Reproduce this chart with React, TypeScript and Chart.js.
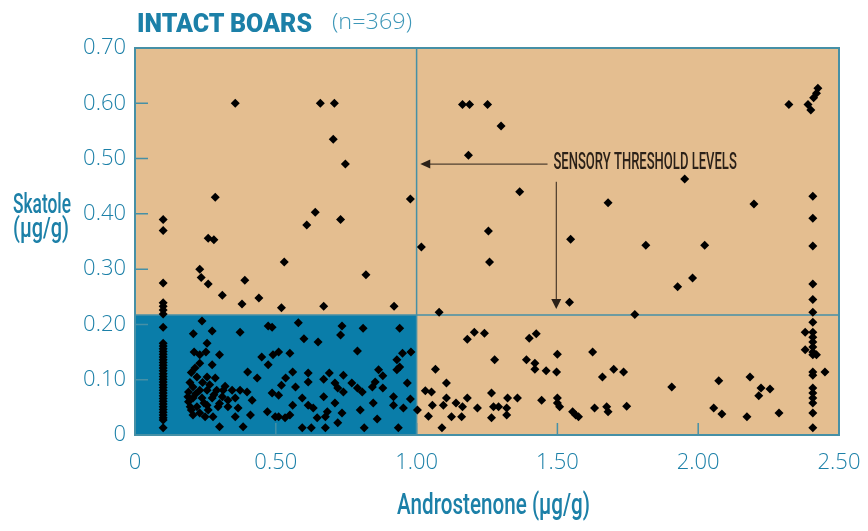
import React, { useEffect, useLayoutEffect, useRef } from "react";
import { Chart, registerables } from "chart.js";

Chart.register(...registerables);

// ---------- axes ----------
const X_TICKS = [0, 0.5, 1.0, 1.5, 2.0, 2.5];
const X_TICK_LABELS = ["0", "0.50", "1.00", "1.50", "2.00", "2.50"];
const Y_TICKS = [0, 0.1, 0.2, 0.3, 0.4, 0.5, 0.6, 0.7];
const Y_TICK_LABELS = ["0", "0.10", "0.20", "0.30", "0.40", "0.50", "0.60", "0.70"];

// ---------- sensory thresholds ----------
const ANDROSTENONE_THRESHOLD = 1.0;
const SKATOLE_THRESHOLD = 0.217;

// ---------- data: [androstenone, skatole] (µg/g) ----------
const UPPER_LEFT = [
  [0.356, 0.6], [0.658, 0.6], [0.708, 0.6], [0.704, 0.535], [0.747, 0.49], [0.978, 0.427],
  [0.64, 0.403], [0.61, 0.38], [0.73, 0.39], [0.82, 0.29], [0.53, 0.313], [0.285, 0.43],
  [0.26, 0.356], [0.28, 0.353], [0.1, 0.39], [0.1, 0.37], [0.1, 0.275], [0.23, 0.3],
  [0.235, 0.285], [0.26, 0.273], [0.39, 0.28], [0.31, 0.253], [0.38, 0.237], [0.44, 0.248],
  [0.52, 0.23], [0.67, 0.233], [0.92, 0.233], [0.1, 0.239], [0.1, 0.233], [0.1, 0.226], [0.1, 0.219],
];

const LOW_COLUMN = [
  [0.1, 0.195], [0.1, 0.166], [0.1, 0.161], [0.1, 0.156], [0.1, 0.151], [0.1, 0.146],
  [0.1, 0.141], [0.1, 0.136], [0.1, 0.131], [0.1, 0.126], [0.1, 0.121], [0.1, 0.116],
  [0.1, 0.111], [0.1, 0.106], [0.1, 0.101], [0.1, 0.096], [0.1, 0.091], [0.1, 0.086],
  [0.1, 0.081], [0.1, 0.076], [0.1, 0.071], [0.1, 0.066], [0.1, 0.061], [0.1, 0.056],
  [0.1, 0.051], [0.1, 0.046], [0.1, 0.041], [0.1, 0.036], [0.1, 0.031], [0.1, 0.027], [0.1, 0.013],
];

const LOW_LEFT_A = [
  [0.238, 0.206], [0.207, 0.183], [0.274, 0.188], [0.373, 0.186], [0.473, 0.197], [0.487, 0.195],
  [0.256, 0.166], [0.21, 0.15], [0.23, 0.145], [0.252, 0.15], [0.3, 0.145], [0.45, 0.141],
  [0.49, 0.145], [0.213, 0.121], [0.23, 0.13], [0.274, 0.127], [0.4, 0.114], [0.473, 0.127],
  [0.22, 0.105], [0.256, 0.105], [0.285, 0.103], [0.434, 0.103], [0.206, 0.087], [0.23, 0.081],
  [0.256, 0.081], [0.29, 0.081], [0.313, 0.081], [0.345, 0.081], [0.373, 0.081], [0.398, 0.078],
  [0.487, 0.076], [0.188, 0.069], [0.206, 0.067], [0.238, 0.067], [0.274, 0.067], [0.31, 0.069],
  [0.33, 0.063], [0.356, 0.067], [0.416, 0.063], [0.196, 0.051], [0.22, 0.051], [0.256, 0.054],
  [0.295, 0.051], [0.33, 0.051], [0.366, 0.049], [0.206, 0.036], [0.249, 0.033], [0.277, 0.033],
  [0.356, 0.033], [0.41, 0.036], [0.47, 0.042], [0.51, 0.033], [0.3, 0.015], [0.384, 0.015],
  [0.195, 0.095], [0.19, 0.078], [0.215, 0.074], [0.245, 0.058], [0.265, 0.091], [0.28, 0.073],
  [0.3, 0.057], [0.32, 0.088], [0.19, 0.06], [0.2, 0.045], [0.23, 0.04], [0.26, 0.045],
  [0.2, 0.113], [0.24, 0.095],
];

const LOW_LEFT_B = [
  [0.58, 0.203], [0.735, 0.197], [0.81, 0.193], [0.94, 0.193], [0.73, 0.181], [0.6, 0.174],
  [0.65, 0.168], [0.79, 0.152], [0.51, 0.15], [0.55, 0.148], [0.95, 0.148], [0.98, 0.15],
  [0.93, 0.136], [0.94, 0.123], [0.93, 0.118], [0.865, 0.118], [0.56, 0.114], [0.615, 0.112],
  [0.69, 0.112], [0.74, 0.108], [0.88, 0.107], [0.535, 0.103], [0.67, 0.101], [0.615, 0.096],
  [0.71, 0.094], [0.77, 0.094], [0.853, 0.096], [0.967, 0.094], [0.52, 0.09], [0.57, 0.087],
  [0.72, 0.085], [0.79, 0.085], [0.843, 0.087], [0.88, 0.085], [0.74, 0.078], [0.807, 0.078],
  [0.51, 0.072], [0.67, 0.069], [0.918, 0.069], [0.594, 0.067], [0.978, 0.065], [0.56, 0.054],
  [0.615, 0.054], [0.71, 0.058], [0.846, 0.058], [0.918, 0.054], [0.633, 0.049], [0.953, 0.049],
  [1.003, 0.045], [0.683, 0.042], [0.8, 0.045], [0.498, 0.033], [0.533, 0.031], [0.55, 0.036],
  [0.647, 0.031], [0.676, 0.033], [0.735, 0.04], [0.86, 0.029], [0.594, 0.013], [0.626, 0.013],
  [0.676, 0.013], [0.72, 0.022], [0.814, 0.013], [0.935, 0.013],
];

const UPPER_RIGHT = [
  [1.163, 0.598], [1.188, 0.598], [1.252, 0.598], [1.3, 0.559], [1.184, 0.506], [1.366, 0.44],
  [1.017, 0.34], [1.255, 0.369], [1.259, 0.313], [1.547, 0.354], [1.68, 0.42], [1.814, 0.343],
  [1.952, 0.463], [2.023, 0.343], [2.198, 0.418], [1.98, 0.284], [1.927, 0.268], [2.322, 0.598],
  [2.39, 0.598], [2.4, 0.588], [2.41, 0.61], [2.42, 0.618], [2.425, 0.627], [2.407, 0.432],
  [2.407, 0.392], [2.407, 0.342], [2.407, 0.273], [1.543, 0.24], [1.08, 0.222], [1.775, 0.218],
  [2.407, 0.245], [2.407, 0.222],
];

const HIGH_COLUMN = [
  [2.407, 0.204], [2.407, 0.186], [2.407, 0.177], [2.407, 0.168], [2.407, 0.159], [2.407, 0.15],
  [2.407, 0.145], [2.407, 0.114], [2.407, 0.108], [2.407, 0.085], [2.407, 0.076], [2.407, 0.067],
  [2.407, 0.058], [2.407, 0.04], [2.407, 0.013], [2.38, 0.186], [2.38, 0.154], [2.42, 0.145],
  [2.45, 0.114],
];

const LOW_RIGHT = [
  [1.18, 0.173], [1.205, 0.186], [1.241, 0.184], [1.4, 0.175], [1.425, 0.183], [1.5, 0.146],
  [1.625, 0.15], [1.067, 0.119], [1.277, 0.136], [1.39, 0.136], [1.42, 0.13], [1.42, 0.119],
  [1.46, 0.116], [1.497, 0.114], [1.7, 0.119], [1.735, 0.114], [1.66, 0.105], [1.906, 0.087],
  [2.073, 0.098], [2.184, 0.105], [2.223, 0.085], [2.255, 0.083], [2.215, 0.071], [2.055, 0.049],
  [2.084, 0.038], [2.173, 0.033], [2.287, 0.04], [1.106, 0.094], [1.031, 0.08], [1.053, 0.078],
  [1.056, 0.054], [1.042, 0.034], [1.09, 0.013], [1.106, 0.067], [1.095, 0.054], [1.14, 0.058],
  [1.163, 0.051], [1.18, 0.067], [1.124, 0.033], [1.16, 0.033], [1.216, 0.049], [1.266, 0.076],
  [1.266, 0.031], [1.273, 0.051], [1.291, 0.051], [1.32, 0.049], [1.32, 0.036], [1.323, 0.067],
  [1.358, 0.067], [1.444, 0.063], [1.5, 0.067], [1.5, 0.058], [1.508, 0.051], [1.554, 0.042],
  [1.565, 0.036], [1.575, 0.033], [1.632, 0.049], [1.675, 0.051], [1.68, 0.042], [1.746, 0.052],
];

// ---------- annotation (data coordinates) ----------
const ANNOTATION_TEXT = "SENSORY THRESHOLD LEVELS";
const ANNOTATION = {
  textLeft: 1.486, textRight: 2.137, textY: 0.492,
  hArrowY: 0.49, hArrowFrom: 1.465, hArrowTo: 1.013,
  vArrowX: 1.496, vArrowFrom: 0.458, vArrowTo: 0.228,
};

// ---------- styles ----------
const TAN = "#E4BE90";
const BLUE = "#0A7DA9";
const LINE = "#4690A6";
const TEXT = "#1C80A8";
const DARK = "#2B2118";

const ALL_POINTS = [
  ...UPPER_LEFT, ...LOW_COLUMN, ...LOW_LEFT_A, ...LOW_LEFT_B,
  ...UPPER_RIGHT, ...HIGH_COLUMN, ...LOW_RIGHT,
].map(([x, y]) => ({ x, y }));

const backdropPlugin = {
  id: "backdrop",
  beforeDatasetsDraw(chart: any) {
    const { ctx, chartArea, scales } = chart;
    const { left, top, right, bottom } = chartArea;
    const xs = scales.x, ys = scales.y;
    ctx.save();
    ctx.fillStyle = TAN;
    ctx.fillRect(left, top, right - left, bottom - top);
    const xT = xs.getPixelForValue(ANDROSTENONE_THRESHOLD);
    const yT = ys.getPixelForValue(SKATOLE_THRESHOLD);
    ctx.fillStyle = BLUE;
    ctx.fillRect(left, yT, xT - left, bottom - yT);
    ctx.strokeStyle = LINE;
    ctx.lineWidth = 1.5;
    ctx.beginPath();
    ctx.moveTo(xT, top); ctx.lineTo(xT, bottom);
    ctx.moveTo(left, yT); ctx.lineTo(right, yT);
    ctx.stroke();
    // inner tick marks
    ctx.lineWidth = 1.5;
    ctx.beginPath();
    Y_TICKS.forEach((v) => {
      const p = ys.getPixelForValue(v);
      ctx.moveTo(left, p); ctx.lineTo(left + 13, p);
    });
    X_TICKS.forEach((v) => {
      const p = xs.getPixelForValue(v);
      ctx.moveTo(p, bottom); ctx.lineTo(p, bottom - 12);
    });
    ctx.stroke();
    ctx.lineWidth = 2;
    ctx.strokeRect(left, top, right - left, bottom - top);
    ctx.restore();
  },
  afterDatasetsDraw(chart: any) {
    const { ctx, scales } = chart;
    const xs = scales.x, ys = scales.y;
    ctx.save();
    ctx.strokeStyle = DARK;
    ctx.fillStyle = DARK;
    ctx.lineWidth = 1;
    // horizontal arrow
    const hy = ys.getPixelForValue(ANNOTATION.hArrowY);
    const hx1 = xs.getPixelForValue(ANNOTATION.hArrowFrom);
    const hx2 = xs.getPixelForValue(ANNOTATION.hArrowTo);
    ctx.beginPath();
    ctx.moveTo(hx1, hy); ctx.lineTo(hx2 + 8, hy); ctx.stroke();
    ctx.beginPath();
    ctx.moveTo(hx2, hy); ctx.lineTo(hx2 + 10, hy - 4.5); ctx.lineTo(hx2 + 10, hy + 4.5); ctx.closePath(); ctx.fill();
    // vertical arrow
    const vx = xs.getPixelForValue(ANNOTATION.vArrowX);
    const vy1 = ys.getPixelForValue(ANNOTATION.vArrowFrom);
    const vy2 = ys.getPixelForValue(ANNOTATION.vArrowTo);
    ctx.beginPath();
    ctx.moveTo(vx, vy1); ctx.lineTo(vx, vy2 - 8); ctx.stroke();
    ctx.beginPath();
    ctx.moveTo(vx, vy2); ctx.lineTo(vx - 5, vy2 - 10); ctx.lineTo(vx + 5, vy2 - 10); ctx.closePath(); ctx.fill();
    // text (condensed to fit)
    const tx1 = xs.getPixelForValue(ANNOTATION.textLeft);
    const tx2 = xs.getPixelForValue(ANNOTATION.textRight);
    const ty = ys.getPixelForValue(ANNOTATION.textY);
    ctx.font = "500 24px Roboto, 'DejaVu Sans', sans-serif";
    ctx.textBaseline = "middle";
    ctx.textAlign = "left";
    const w = ctx.measureText(ANNOTATION_TEXT).width;
    ctx.translate(tx1, ty);
    ctx.scale((tx2 - tx1) / w, 1);
    ctx.fillText(ANNOTATION_TEXT, 0, 0);
    ctx.restore();
  },
};

function FitText({ text, left, top, width, style }: any) {
  const ref = useRef<HTMLSpanElement>(null);
  useLayoutEffect(() => {
    const el = ref.current;
    if (!el) return;
    el.style.transform = "none";
    const w = el.getBoundingClientRect().width;
    if (w > 0) el.style.transform = `scaleX(${width / w})`;
  }, [text, width]);
  return (
    <span
      ref={ref}
      style={{
        position: "absolute", left, top, whiteSpace: "pre", lineHeight: 1,
        transformOrigin: "left top", ...style,
      }}
    >
      {text}
    </span>
  );
}

const CONDENSED = "Roboto, 'Liberation Sans', sans-serif";

export default function App() {
  const canvasRef = useRef<HTMLCanvasElement>(null);
  useEffect(() => {
    document.body.style.margin = "0";
    const chart = new Chart(canvasRef.current!, {
      type: "scatter",
      data: {
        datasets: [
          {
            data: ALL_POINTS,
            pointStyle: "rectRot",
            pointRadius: 4.5,
            pointBackgroundColor: "#000",
            pointBorderWidth: 0,
            pointBorderColor: "#000",
          },
        ],
      },
      plugins: [backdropPlugin],
      options: {
        animation: false,
        responsive: false,
        maintainAspectRatio: false,
        devicePixelRatio: 1,
        layout: { padding: { top: 48, right: 29, left: 0, bottom: 0 } },
        plugins: { legend: { display: false }, title: { display: false }, tooltip: { enabled: false } },
        scales: {
          x: {
            type: "linear", min: 0, max: 2.5,
            grid: { display: false, drawTicks: false },
            border: { display: false },
            afterBuildTicks: (s: any) => { s.ticks = X_TICKS.map((value) => ({ value })); },
            afterFit: (s: any) => { s.height = 96; s.paddingLeft = 0; s.paddingRight = 0; },
            ticks: {
              color: TEXT, padding: 15,
              font: { family: "'Open Sans', sans-serif", size: 22, weight: 300 },
              callback: (_v: any, i: number) => X_TICK_LABELS[i],
            },
          },
          y: {
            type: "linear", min: 0, max: 0.7,
            grid: { display: false, drawTicks: false },
            border: { display: false },
            afterBuildTicks: (s: any) => { s.ticks = Y_TICKS.map((value) => ({ value })); },
            afterFit: (s: any) => { s.width = 135; s.paddingTop = 0; s.paddingBottom = 0; },
            ticks: {
              color: TEXT, padding: 9,
              font: { family: "'Open Sans', sans-serif", size: 22, weight: 300 },
              callback: (_v: any, i: number) => Y_TICK_LABELS[i],
            },
          },
        },
      },
    } as any);
    return () => chart.destroy();
  }, []);

  return (
    <div style={{ position: "relative", width: 868, height: 531, background: "#fff", overflow: "hidden" }}>
      <canvas ref={canvasRef} width={868} height={531} style={{ position: "absolute", left: 0, top: 0 }} />
      <FitText text="INTACT BOARS" left={137} top={11} width={175}
        style={{ fontFamily: CONDENSED, fontWeight: 900, fontSize: 25, color: TEXT }} />
      <FitText text="(n=369)" left={332} top={9} width={80}
        style={{ fontFamily: "'Open Sans', sans-serif", fontWeight: 300, fontSize: 22, color: "#3D97B8" }} />
      <FitText text="Skatole" left={13} top={190} width={58}
        style={{ fontFamily: CONDENSED, fontWeight: 500, fontSize: 28, color: TEXT }} />
      <FitText text="(µg/g)" left={13} top={214} width={56}
        style={{ fontFamily: CONDENSED, fontWeight: 500, fontSize: 28, color: TEXT }} />
      <FitText text="Androstenone (µg/g)" left={397} top={489} width={193}
        style={{ fontFamily: CONDENSED, fontWeight: 500, fontSize: 30, color: TEXT }} />
    </div>
  );
}
